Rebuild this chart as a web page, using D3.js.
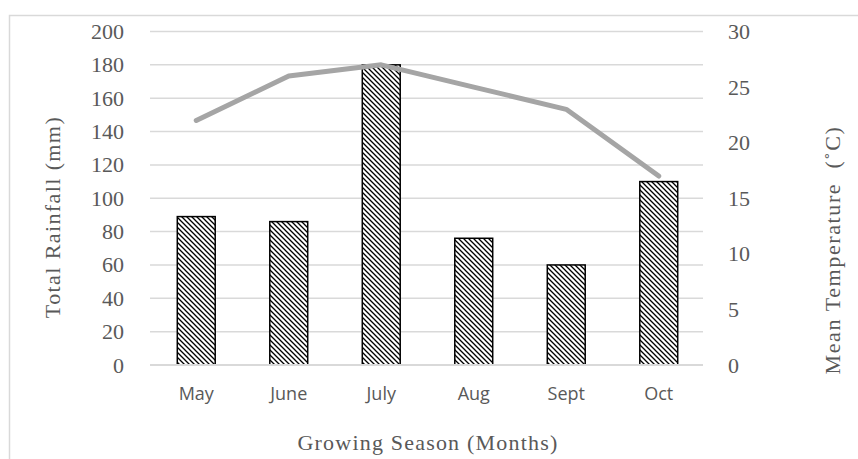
<!DOCTYPE html>
<html><head><meta charset="utf-8">
<script src="https://cdn.jsdelivr.net/npm/d3@7"></script>
<style>body{margin:0;background:#fff}svg{display:block}</style>
</head><body>
<script>
const months = ["May","June","July","Aug","Sept","Oct"];
const rainfall = [89, 86, 180, 76, 60, 110];
const temperature = [22, 26, 27, 25, 23, 17];
const rainTicks = [0,20,40,60,80,100,120,140,160,180,200];
const tempTicks = [0,5,10,15,20,25,30];

const W = 858, H = 459;
const svg = d3.select("body").append("svg").attr("width", W).attr("height", H);
const grey = "#595959", gridC = "#D9D9D9";
const serif = "'Liberation Serif','DejaVu Serif',serif";
const sans = "'Open Sans','Liberation Sans',sans-serif";

const defs = svg.append("defs");
const pat = defs.append("pattern").attr("id","hatch").attr("patternUnits","userSpaceOnUse")
  .attr("width",5).attr("height",5);
pat.append("rect").attr("width",5).attr("height",5).attr("fill","#fff");
pat.append("path").attr("d","M-1,-1 L6,6 M-1,4 L1,6 M4,-1 L6,1")
  .attr("stroke","#000").attr("stroke-width",1.3);

// outer border
svg.append("path").attr("d","M9.5,459 L9.5,15.5 L858,15.5").attr("fill","none").attr("stroke",gridC).attr("stroke-width",1.5);

const x0 = 150, x1 = 705, yTop = 31.5, yBot = 365;
const x = d3.scaleBand().domain(months).range([x0, x1]).paddingInner(0.59).paddingOuter(0.295);
const yL = d3.scaleLinear().domain([0,200]).range([yBot, yTop]);
const yR = d3.scaleLinear().domain([0,30]).range([yBot, yTop]);

// gridlines
svg.append("g").selectAll("line").data(rainTicks.filter(d=>d>0)).join("line")
  .attr("x1",x0).attr("x2",x1 - 2).attr("y1",d=>yL(d)).attr("y2",d=>yL(d))
  .attr("stroke",gridC).attr("stroke-width",1.5);

// left axis
const gL = svg.append("g").attr("transform",`translate(${x0},0)`)
  .call(d3.axisLeft(yL).tickValues(rainTicks).tickSize(0).tickPadding(26));
gL.select(".domain").remove();
gL.selectAll("text").attr("font-family",serif).attr("font-size",22).attr("fill",grey);

// right axis
const gR = svg.append("g").attr("transform",`translate(${x1},0)`)
  .call(d3.axisRight(yR).tickValues(tempTicks).tickSize(0).tickPadding(23));
gR.select(".domain").remove();
gR.selectAll("text").attr("font-family",serif).attr("font-size",22).attr("fill",grey);

// bars
svg.append("g").selectAll("rect").data(months).join("rect")
  .attr("x",d=>x(d)).attr("width",x.bandwidth())
  .attr("y",(d,i)=>yL(rainfall[i])).attr("height",(d,i)=>yBot - yL(rainfall[i]))
  .attr("fill","url(#hatch)").attr("stroke","#000").attr("stroke-width",1.5);

// baseline
svg.append("line").attr("x1",x0).attr("x2",x1-2).attr("y1",yBot).attr("y2",yBot)
  .attr("stroke",gridC).attr("stroke-width",2);

// temperature line
const line = d3.line().x((d,i)=>x(months[i]) + x.bandwidth()/2).y(d=>yR(d));
svg.append("path").datum(temperature).attr("d",line)
  .attr("fill","none").attr("stroke","#A5A5A5").attr("stroke-width",5)
  .attr("stroke-linecap","round").attr("stroke-linejoin","round");

// x axis
const gX = svg.append("g").attr("transform",`translate(0,${yBot})`)
  .call(d3.axisBottom(x).tickSize(0).tickPadding(22));
gX.select(".domain").remove();
gX.selectAll("text").attr("font-family",sans).attr("font-size",18).attr("fill",grey);

// titles
svg.append("text").attr("x",428).attr("y",450).attr("text-anchor","middle")
  .attr("font-family",serif).attr("font-size",22).attr("letter-spacing",1.2).attr("fill",grey).text("Growing Season (Months)");
svg.append("text").attr("transform","translate(60,217) rotate(-90)").attr("text-anchor","middle")
  .attr("font-family",serif).attr("font-size",22).attr("letter-spacing",1.4).attr("fill",grey).text("Total Rainfall (mm)");
svg.append("text").attr("transform","translate(840,250) rotate(-90)").attr("text-anchor","middle")
  .attr("font-family",serif).attr("font-size",22).attr("letter-spacing",1.6).attr("fill",grey)
  .style("white-space","pre").text("Mean Temperature  (˚C)");
</script>
</body></html>
